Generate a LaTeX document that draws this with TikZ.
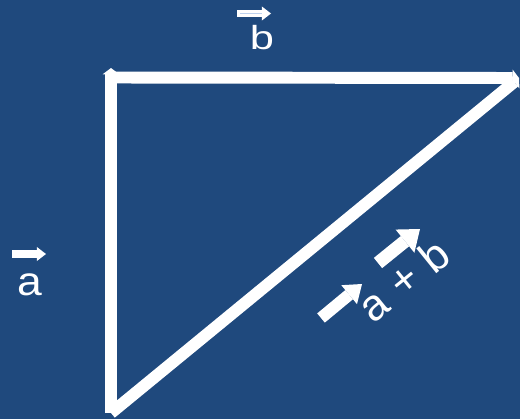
\documentclass[tikz,border=0pt]{standalone}
\usepackage{fontspec}
\setmainfont{Liberation Sans}
\usetikzlibrary{arrows.meta}
\definecolor{slateblue}{RGB}{31,73,125}
\definecolor{paleblue}{RGB}{190,210,238}

\begin{document}
\begin{tikzpicture}[
x=0.02cm, y=-0.02cm,
side/.style={white, line width=6.8pt, -{Triangle[width=9.5pt, length=3.6pt, line width=0pt]}},
vecarrow/.style={white, line width=4pt, -{Triangle[width=8pt, length=5.2pt, line width=0pt]}},
bigvec/.style={white, line width=7.5pt, -{Triangle[width=17pt, length=11pt, line width=0pt]}},
lbl/.style={text=white, inner sep=0pt, font=\fontsize{23}{27}\selectfont}
]
\fill[slateblue] (0,0) rectangle (520,419);
\useasboundingbox (0,0) rectangle (520,419);

% corners of the triangle
\coordinate (bot) at (111,413);
\coordinate (top) at (111,68);
\coordinate (corner) at (111,77.5);
\coordinate (tip) at (519,78);

\draw[side] (bot) -- (top);
\draw[side] (corner) -- (tip);
\draw[side] (bot) -- (tip);

% labels
\node[lbl, anchor=base, xscale=1.3, font=\fontsize{19}{23}\selectfont] (lb) at (262,49) {b};
\draw[vecarrow] (237,13.5) -- (271,13.5);
\draw[paleblue, line width=0.9pt] (240,13.5) -- (262,13.5);

\node[lbl, anchor=base, xscale=1.1] (la) at (29.5,295) {a};
\draw[vecarrow] (12,254) -- (46,254);

\node[lbl, anchor=base, rotate=39, font=\fontsize{25}{29}\selectfont] (lsum) at (413.4,291.9) {a\hspace{0.28cm}+\hspace{0.28cm}b};
\draw[bigvec, line width=6.8pt, arrows={-Triangle[width=14pt, length=9.5pt, line width=0pt]}] (321,318) -- (362,284);
\draw[bigvec] (378,263) -- (420,229);
\end{tikzpicture}
\end{document}
